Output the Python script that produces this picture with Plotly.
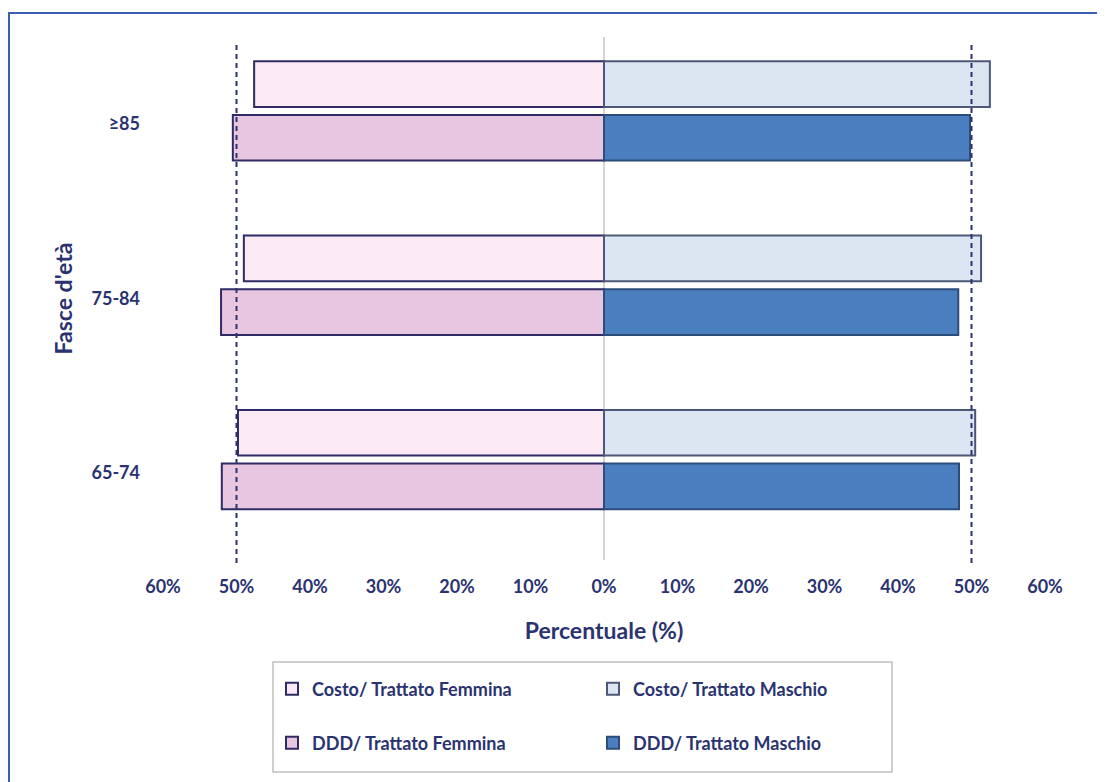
import plotly.graph_objects as go

# ---- data (percent) ----
categories = ["65-74", "75-84", "≥85"]
costo_femmina = [49.8, 49.0, 47.6]
costo_maschio = [50.5, 51.3, 52.5]
ddd_femmina = [52.0, 52.1, 50.5]
ddd_maschio = [48.3, 48.2, 49.8]
x_ticks = [-60, -50, -40, -30, -20, -10, 0, 10, 20, 30, 40, 50, 60]
x_ticklabels = ["60%", "50%", "40%", "30%", "20%", "10%", "0%", "10%", "20%", "30%", "40%", "50%", "60%"]
ref_lines = [-50, 50]

NAVY = "#2A3370"
FONT = "Lato, 'Open Sans', Arial, sans-serif"

# page body has an 8px margin: compensate so the picture matches reference pixels
OFF = 8
W, H = 1105 - OFF, 782 - OFF
L, R, T, B = 163 - OFF, 60, 37 - OFF, 222
PW, PH = W - L - R, H - T - B


def px(x):
    return (x - OFF - L) / PW


def py(y):
    return (H - B - (y - OFF)) / PH


ypos = list(range(len(categories)))
costo_off, ddd_off, bw = 0.099, -0.209, 0.262

fig = go.Figure()
fig.add_trace(go.Bar(
    y=ypos, x=[-v for v in costo_femmina], orientation="h",
    name="Costo/ Trattato Femmina", offset=costo_off, width=bw,
    marker=dict(color="#FBE9F3", line=dict(color="#2E2B66", width=2)),
    legend="legend",
))
fig.add_trace(go.Bar(
    y=ypos, x=costo_maschio, orientation="h",
    name="Costo/ Trattato Maschio", offset=costo_off, width=bw,
    marker=dict(color="#DCE6F2", line=dict(color="#4D5878", width=2)),
    legend="legend2",
))
fig.add_trace(go.Bar(
    y=ypos, x=[-v for v in ddd_femmina], orientation="h",
    name="DDD/ Trattato Femmina", offset=ddd_off, width=bw,
    marker=dict(color="#E8C6DF", line=dict(color="#2E2B66", width=2)),
    legend="legend3",
))
fig.add_trace(go.Bar(
    y=ypos, x=ddd_maschio, orientation="h",
    name="DDD/ Trattato Maschio", offset=ddd_off, width=bw,
    marker=dict(color="#4A7EBE", line=dict(color="#2C4C7C", width=2)),
    legend="legend4",
))

shapes = []
for xv in ref_lines:
    shapes.append(dict(type="line", xref="x", yref="paper", x0=xv, x1=xv,
                       y0=py(563), y1=py(43),
                       line=dict(color=NAVY, width=2, dash="5px,4px"), layer="above"))
# outer frame
shapes.append(dict(type="rect", xref="paper", yref="paper",
                   x0=px(9), x1=px(1125), y0=py(800), y1=py(13),
                   line=dict(color="#3A5FB0", width=2), fillcolor="rgba(0,0,0,0)"))
# legend box
shapes.append(dict(type="rect", xref="paper", yref="paper",
                   x0=px(273), x1=px(892), y0=py(772), y1=py(662),
                   line=dict(color="#BFBFBF", width=1.5), fillcolor="rgba(0,0,0,0)"))

legend_font = dict(family=FONT, size=18, color=NAVY, weight="bold")


def leg(xtext, yc):
    return dict(x=px(xtext - 40), y=py(yc), xanchor="left", yanchor="middle",
                orientation="h", font=legend_font, bgcolor="rgba(0,0,0,0)",
                borderwidth=0)


fig.update_layout(
    width=W, height=H,
    margin=dict(l=L, r=R, t=T, b=B, autoexpand=False),
    paper_bgcolor="white", plot_bgcolor="white",
    barmode="overlay",
    showlegend=True,
    legend=leg(312, 689),
    legend2=leg(633, 689),
    legend3=leg(312, 743),
    legend4=leg(633, 743),
    shapes=shapes,
    font=dict(family=FONT, color=NAVY),
    xaxis=dict(
        range=[-60, 60], tickvals=x_ticks, ticktext=x_ticklabels,
        showgrid=False, zeroline=True, zerolinecolor="#D4D4D4", zerolinewidth=1.5,
        showline=False, ticks="", ticklabelstandoff=14,
        tickfont=dict(family=FONT, size=18, color=NAVY, weight="bold"),
        title=dict(text="Percentuale (%)", standoff=26,
                   font=dict(family=FONT, size=23, color=NAVY, weight="bold")),
        automargin=False, fixedrange=True,
    ),
    yaxis=dict(
        range=[-0.5, 2.5], tickvals=ypos, ticktext=categories,
        showgrid=False, zeroline=False, showline=False, ticks="",
        ticklabelstandoff=22,
        tickfont=dict(family=FONT, size=18, color=NAVY, weight="bold"),
        title=dict(text="Fasce d'età", standoff=12,
                   font=dict(family=FONT, size=23, color=NAVY, weight="bold")),
        automargin=False, fixedrange=True,
    ),
)

fig.write_html("out.html")
